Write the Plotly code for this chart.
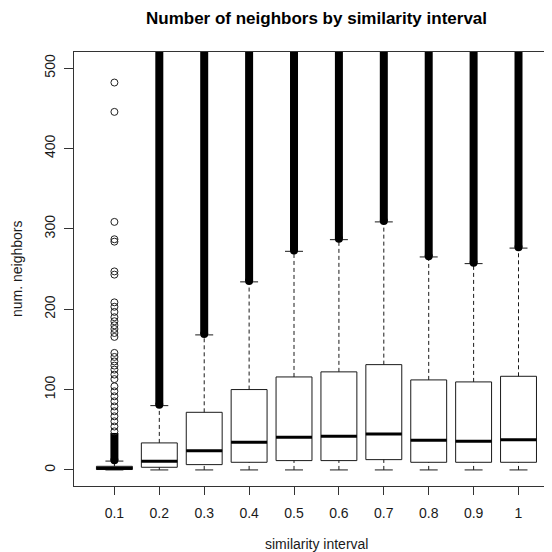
import plotly.graph_objects as go

# ---- data ----
categories = ["0.1", "0.2", "0.3", "0.4", "0.5", "0.6", "0.7", "0.8", "0.9", "1"]
lower_whisker = [0, 0, 0, 0, 0, 0, 0, 0, 0, 0]
q1 = [0.5, 3.3, 6.6, 9.5, 11.6, 11.6, 12.8, 9.5, 9.5, 9.5]
median = [2, 10.7, 24, 34.4, 40.6, 41.8, 44.8, 36.9, 35.6, 37.7]
q3 = [4.5, 33.6, 71.7, 100, 115.7, 122, 131, 112, 109.5, 116.5]
upper_whisker = [11, 80, 168, 234, 272, 286.5, 308.6, 265, 256.7, 276]

# dense runs of overlapping outliers (lowest and highest outlier of each run)
dense_low = [12, 81, 169, 235, 273, 287.5, 309.6, 266, 257.7, 277]
dense_high = [46, 530, 530, 530, 530, 530, 530, 530, 530, 530]

# individually visible outliers of the 0.1 interval
sparse_outliers_01 = [482, 445.5, 308.6, 287, 284, 247, 243, 208.5, 203, 196.6,
                      190, 185, 180, 175.4, 170.4, 165.5, 145.6, 140.6, 135,
                      129.8, 124.8, 118.6, 113, 104, 97.8, 91.6, 85.4, 79,
                      73, 66.7, 60.5, 54, 48]

y_ticks = [0, 100, 200, 300, 400, 500]

# ---- layout constants (pixels) ----
# the page body adds an 8px offset, so targets are shifted by OFF
OFF = 8
W, H = 552, 552
L = 74 - OFF
T = 52 - OFF
BOTTOM = 486 - OFF
R = 0
B = H - BOTTOM
PW, PH = W - L - R, H - T - B
BOXW = 0.8
CAP = 0.2
FONT = "Liberation Sans, Arial, sans-serif"
INK = "#1a1a1a"
FS = 14


def px2paper_x(px):
    return (px - OFF - L) / PW


def px2paper_y(py):
    return (BOTTOM - (py - OFF)) / PH


xs = list(range(1, len(categories) + 1))

fig = go.Figure()

# whiskers (dashed)
wx, wy = [], []
for x, a, b, c, d in zip(xs, lower_whisker, q1, q3, upper_whisker):
    wx += [x, x, None, x, x, None]
    wy += [a, b, None, c, d, None]
fig.add_trace(go.Scatter(x=wx, y=wy, mode="lines",
                         line=dict(color=INK, width=1, dash="4px,3px"),
                         hoverinfo="skip", showlegend=False))

# staples
sx, sy = [], []
for x, a, d in zip(xs, lower_whisker, upper_whisker):
    sx += [x - CAP, x + CAP, None, x - CAP, x + CAP, None]
    sy += [a, a, None, d, d, None]
fig.add_trace(go.Scatter(x=sx, y=sy, mode="lines",
                         line=dict(color=INK, width=1),
                         hoverinfo="skip", showlegend=False))

# boxes
fig.add_trace(go.Box(x=xs, q1=q1, median=median, q3=q3,
                     lowerfence=q1, upperfence=q3,
                     width=BOXW, whiskerwidth=0,
                     fillcolor="white", line=dict(color=INK, width=1),
                     boxpoints=False, hoverinfo="skip", showlegend=False))

# thick median lines
mx, my = [], []
for x, m in zip(xs, median):
    mx += [x - BOXW / 2, x + BOXW / 2, None]
    my += [m, m, None]
fig.add_trace(go.Scatter(x=mx, y=my, mode="lines",
                         line=dict(color="black", width=3),
                         hoverinfo="skip", showlegend=False))

# dense outlier runs
dx, dy = [], []
for x, lo, hi in zip(xs, dense_low, dense_high):
    dx += [x, x, None]
    dy += [lo, hi, None]
fig.add_trace(go.Scatter(x=dx, y=dy, mode="lines",
                         line=dict(color="black", width=8),
                         hoverinfo="skip", showlegend=False))
fig.add_trace(go.Scatter(x=xs, y=dense_low, mode="markers",
                         marker=dict(symbol="circle", size=8, color="black"),
                         hoverinfo="skip", showlegend=False))

# sparse outliers
fig.add_trace(go.Scatter(x=[xs[0]] * len(sparse_outliers_01), y=sparse_outliers_01,
                         mode="markers",
                         marker=dict(symbol="circle-open", size=7,
                                     color="#222", line=dict(width=1)),
                         hoverinfo="skip", showlegend=False))

fig.update_layout(
    width=W, height=H,
    margin=dict(l=L, r=R, t=T, b=B, pad=0),
    plot_bgcolor="white", paper_bgcolor="white",
    font=dict(family=FONT, size=FS, color=INK),
    showlegend=False,
)

fig.update_xaxes(
    range=[0.1, 0.1 + PW / 44.9],
    tickvals=xs, ticktext=categories,
    showgrid=False, zeroline=False,
    showline=True, mirror=True, linecolor="#333", linewidth=1,
    ticks="outside", ticklen=8, tickcolor="#333", tickwidth=1,
    ticklabelstandoff=6,
    tickfont=dict(family=FONT, size=FS, color=INK),
)
fig.update_yaxes(
    range=[-20, 520],
    tickvals=y_ticks,
    showgrid=False, zeroline=False,
    showline=True, mirror=False, linecolor="#333", linewidth=1,
    ticks="outside", ticklen=9, tickcolor="#333", tickwidth=1,
    tickangle=-90, ticklabelstandoff=3,
    tickfont=dict(family=FONT, size=FS, color=INK),
)

fig.add_annotation(text="<b>Number of neighbors by similarity interval</b>",
                   xref="paper", yref="paper",
                   x=px2paper_x(316.5), y=px2paper_y(19),
                   xanchor="center", yanchor="middle", showarrow=False,
                   font=dict(family=FONT, size=17, color="black"))
fig.add_annotation(text="similarity interval",
                   xref="paper", yref="paper",
                   x=px2paper_x(316.5), y=px2paper_y(544),
                   xanchor="center", yanchor="middle", showarrow=False,
                   font=dict(family=FONT, size=FS, color=INK))
fig.add_annotation(text="num. neighbors",
                   xref="paper", yref="paper",
                   x=px2paper_x(17), y=px2paper_y(269),
                   xanchor="center", yanchor="middle", showarrow=False,
                   textangle=-90,
                   font=dict(family=FONT, size=FS, color=INK))

fig.write_html("out.html")
